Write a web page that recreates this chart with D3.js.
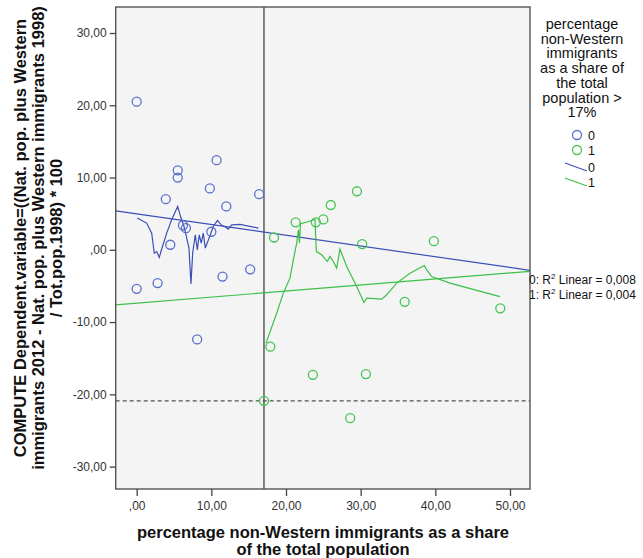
<!DOCTYPE html>
<html>
<head>
<meta charset="utf-8">
<script src="https://cdn.jsdelivr.net/npm/d3@7"></script>
<style>
  html, body { margin: 0; padding: 0; background: #ffffff; }
  svg { display: block; font-family: "Liberation Sans", Arial, sans-serif; }
</style>
</head>
<body>
<svg id="chart" width="643" height="558"></svg>
<script>
// ---------------- DATA ----------------
const xTicks = [0, 10, 20, 30, 40, 50];
const xTickLabels = [",00", "10,00", "20,00", "30,00", "40,00", "50,00"];
const yTicks = [30, 20, 10, 0, -10, -20, -30];
const yTickLabels = ["30,00", "20,00", "10,00", ",00", "-10,00", "-20,00", "-30,00"];

// group 0 (<= 17%) scatter points
const group0X = [0.0, 10.7, 5.5, 5.5, 9.8, 3.9, 16.4, 12.0, 6.2, 6.6, 10.0, 4.5, 15.2, 11.5, 2.8, 0.0, 8.1];
const group0Y = [20.5, 12.4, 11.0, 10.0, 8.5, 7.0, 7.7, 6.0, 3.4, 3.0, 2.5, 0.7, -2.7, -3.7, -4.6, -5.4, -12.4];

// group 1 (> 17%) scatter points
const group1X = [29.5, 26.0, 21.3, 24.0, 25.0, 18.4, 30.2, 39.8, 35.9, 48.7, 17.9, 23.6, 30.7, 17.05, 28.6];
const group1Y = [8.1, 6.2, 3.8, 3.8, 4.2, 1.7, 0.8, 1.2, -7.2, -8.1, -13.4, -17.3, -17.2, -20.9, -23.3];

// local smoother (interpolation) lines
const smooth0X = [0.08, 1.34, 2.01, 2.36, 2.68, 3.03, 3.21, 4.02, 4.69, 5.49, 5.93, 6.34, 7.00, 7.27, 7.50, 7.85, 8.12, 8.38, 8.65, 8.92, 9.19, 9.78, 10.26, 10.82, 11.38, 11.83, 12.27, 12.72, 13.84, 16.31];
const smooth0Y = [4.39, 3.70, 2.31, -0.46, -0.24, -1.07, -0.37, 2.31, 4.16, 6.00, 4.43, 3.23, 0.28, -4.71, -0.46, 2.08, 0.0, 2.08, 0.93, 2.31, 0.24, 1.84, 3.23, 4.06, 3.39, 3.19, 2.87, 3.46, 3.53, 3.01];
const smooth1X = [17.32, 18.75, 19.64, 20.53, 20.98, 21.43, 21.67, 21.80, 21.94, 22.94, 23.88, 24.06, 24.78, 25.53, 25.89, 26.33, 26.79, 27.23, 28.13, 29.47, 30.44, 30.81, 32.82, 33.49, 34.82, 36.61, 38.52, 38.84, 39.51, 41.96, 48.66];
const smooth1Y = [-12.92, -8.77, -5.99, -3.92, -1.39, 0.93, 2.77, 0.93, 3.60, 3.88, 4.22, -0.24, -0.69, -1.62, -0.93, -1.62, -2.53, 0.10, -2.31, -5.08, -7.30, -6.69, -6.83, -6.23, -4.61, -3.23, -2.17, -2.77, -3.70, -4.61, -6.47];

// linear fit lines (intercept, slope) per group
const fitIntercepts = [4.98, -7.385];
const fitSlopes = [-0.1485, 0.0836];
const fitLabels = ["0: R\u00B2 Linear = 0,008", "1: R\u00B2 Linear = 0,004"];

// reference lines
const refX = 17.05;
const refY = -20.9;

const legendTitle = ["percentage", "non-Western", "immigrants", "as a share of", "the total", "population >", "17%"];
const legendLabels = ["0", "1"];
const xTitle = ["percentage non-Western immigrants as a share", "of the total population"];
const yTitle = ["COMPUTE Dependent.variable=((Nat. pop. plus Western", "immigrants 2012 - Nat. pop. plus Western immigrants 1998)", "/ Tot.pop.1998) * 100"];

const colors = { pt0: "#5a6fcc", ln0: "#3c50b6", pt1: "#44c452", ln1: "#3cbf48" };

// ---------------- CHART ----------------
const svg = d3.select("#chart");
const plot = { left: 115.7, right: 530, top: 7, bottom: 489 };
const x = d3.scaleLinear().domain([-2.81, 52.68]).range([plot.left, plot.right]);
const y = d3.scaleLinear().domain([-33.1, 33.6]).range([plot.bottom, plot.top]);

svg.append("defs").append("clipPath").attr("id", "clip")
  .append("rect").attr("x", plot.left).attr("y", plot.top)
  .attr("width", plot.right - plot.left).attr("height", plot.bottom - plot.top);

// background
svg.append("rect")
  .attr("x", plot.left).attr("y", plot.top)
  .attr("width", plot.right - plot.left).attr("height", plot.bottom - plot.top)
  .attr("fill", "#f4f4f4");

const g = svg.append("g").attr("clip-path", "url(#clip)");

// reference lines
g.append("line")
  .attr("x1", x(refX)).attr("x2", x(refX))
  .attr("y1", plot.top).attr("y2", plot.bottom)
  .attr("stroke", "#505050").attr("stroke-width", 1.4);
g.append("line")
  .attr("x1", plot.left).attr("x2", plot.right)
  .attr("y1", y(refY)).attr("y2", y(refY))
  .attr("stroke", "#505050").attr("stroke-width", 1.4)
  .attr("stroke-dasharray", "4,3");

// fit lines
const xDom = x.domain();
[0, 1].forEach(i => {
  g.append("line")
    .attr("x1", x(xDom[0])).attr("y1", y(fitIntercepts[i] + fitSlopes[i] * xDom[0]))
    .attr("x2", x(xDom[1])).attr("y2", y(fitIntercepts[i] + fitSlopes[i] * xDom[1]))
    .attr("stroke", i === 0 ? colors.ln0 : colors.ln1)
    .attr("stroke-width", 1.2);
});

// smoother lines
const line = d3.line().x(d => x(d[0])).y(d => y(d[1]));
g.append("path")
  .attr("d", line(d3.zip(smooth0X, smooth0Y)))
  .attr("fill", "none").attr("stroke", colors.ln0).attr("stroke-width", 1.2);
g.append("path")
  .attr("d", line(d3.zip(smooth1X, smooth1Y)))
  .attr("fill", "none").attr("stroke", colors.ln1).attr("stroke-width", 1.2);

// points
g.selectAll("circle.p0").data(d3.zip(group0X, group0Y)).join("circle")
  .attr("class", "p0")
  .attr("cx", d => x(d[0])).attr("cy", d => y(d[1])).attr("r", 4.5)
  .attr("fill", "none").attr("stroke", colors.pt0).attr("stroke-width", 1.3);
g.selectAll("circle.p1").data(d3.zip(group1X, group1Y)).join("circle")
  .attr("class", "p1")
  .attr("cx", d => x(d[0])).attr("cy", d => y(d[1])).attr("r", 4.5)
  .attr("fill", "none").attr("stroke", colors.pt1).attr("stroke-width", 1.3);

// frame
svg.append("rect")
  .attr("x", plot.left).attr("y", plot.top)
  .attr("width", plot.right - plot.left).attr("height", plot.bottom - plot.top)
  .attr("fill", "none").attr("stroke", "#555").attr("stroke-width", 1.4);

// axes
const xAxis = d3.axisBottom(x).tickValues(xTicks)
  .tickFormat((d, i) => xTickLabels[i]).tickSize(7).tickSizeOuter(0).tickPadding(5);
const gx = svg.append("g").attr("transform", `translate(0,${plot.bottom})`).call(xAxis);
gx.select(".domain").remove();
gx.selectAll(".tick line").attr("stroke", "#444").attr("stroke-width", 1.3);
gx.selectAll(".tick text").attr("font-size", 12).attr("fill", "#333")
  .attr("font-family", "'Liberation Sans', Arial, sans-serif");

const yAxis = d3.axisLeft(y).tickValues(yTicks)
  .tickFormat((d, i) => yTickLabels[i]).tickSize(6).tickSizeOuter(0).tickPadding(3);
const gy = svg.append("g").attr("transform", `translate(${plot.left},0)`).call(yAxis);
gy.select(".domain").remove();
gy.selectAll(".tick line").attr("stroke", "#444").attr("stroke-width", 1.3);
gy.selectAll(".tick text").attr("font-size", 12).attr("fill", "#333")
  .attr("font-family", "'Liberation Sans', Arial, sans-serif");

// axis titles
const xt = svg.append("text").attr("text-anchor", "middle")
  .attr("font-size", 16.5).attr("font-weight", "bold").attr("fill", "#111");
xTitle.forEach((t, i) => {
  xt.append("tspan").attr("x", 323).attr("y", 537.5 + i * 17.5).text(t);
});
const yt = svg.append("text").attr("text-anchor", "middle")
  .attr("font-size", 16.5).attr("font-weight", "bold").attr("fill", "#111")
  .attr("transform", "translate(0,238) rotate(-90)");
yTitle.forEach((t, i) => {
  yt.append("tspan").attr("x", 0).attr("y", 26 + i * 18).text(t);
});

// R² labels
fitLabels.forEach((t, i) => {
  const txt = svg.append("text").attr("x", 529).attr("y", 283.5 + i * 15)
    .attr("font-size", 12).attr("fill", "#111");
  const parts = t.split("\u00B2");
  txt.append("tspan").text(parts[0]);
  txt.append("tspan").attr("font-size", 8).attr("dy", -5).text("2");
  txt.append("tspan").attr("dy", 5).text(parts[1]);
});

// legend
const lg = svg.append("text").attr("text-anchor", "middle")
  .attr("font-size", 14.5).attr("fill", "#111");
legendTitle.forEach((t, i) => {
  lg.append("tspan").attr("x", 582).attr("y", 29 + i * 14.7).text(t);
});
legendLabels.forEach((lab, i) => {
  const cy = 135 + i * 15;
  svg.append("circle").attr("cx", 577).attr("cy", cy).attr("r", 4.5)
    .attr("fill", "none").attr("stroke", i === 0 ? colors.pt0 : colors.pt1).attr("stroke-width", 1.3);
  svg.append("text").attr("x", 588).attr("y", cy + 4.5).attr("font-size", 12.5).attr("fill", "#111").text(lab);
});
legendLabels.forEach((lab, i) => {
  const cy = 167 + i * 15;
  svg.append("line").attr("x1", 565).attr("y1", cy - 4).attr("x2", 587).attr("y2", cy + 4)
    .attr("stroke", i === 0 ? colors.ln0 : colors.ln1).attr("stroke-width", 1.2);
  svg.append("text").attr("x", 588).attr("y", cy + 4.5).attr("font-size", 12.5).attr("fill", "#111").text(lab);
});
</script>
</body>
</html>
